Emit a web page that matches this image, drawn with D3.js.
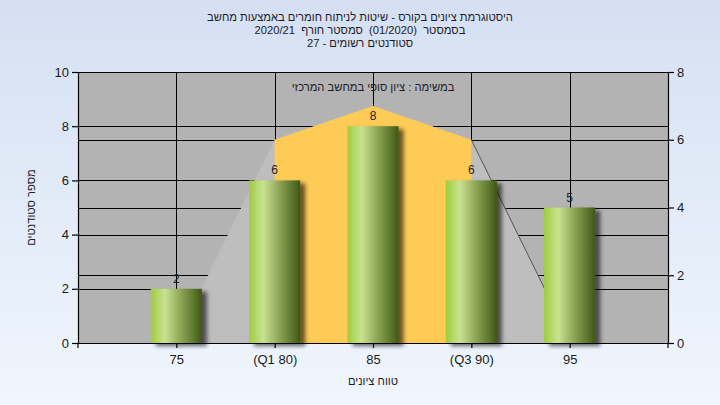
<!DOCTYPE html>
<html><head><meta charset="utf-8">
<script src="https://cdn.jsdelivr.net/npm/d3@7/dist/d3.min.js"></script>
<style>
html,body{margin:0;padding:0;}
svg{display:block;font-family:"Liberation Sans",Arial,"DejaVu Sans",sans-serif;}
text.pre{white-space:pre;}
</style></head>
<body>
<svg id="c" width="720" height="405"></svg>
<script>
const titleLines = ["היסטוגרמת ציונים בקורס - שיטות לניתוח חומרים באמצעות מחשב",
                    "בסמסטר  (01/2020)  סמסטר חורף  2020/21",
                    "סטודנטים רשומים - 27"];
const subtitle = "במשימה : ציון סופי במחשב המרכזי";
const xTitle = "טווח ציונים";
const yTitle = "מספר סטודנטים";
const categories = ["75", "(Q1 80)", "85", "(Q3 90)", "95"];
const counts = [2, 6, 8, 6, 5];
const curve = [0.1, 6, 7, 6, 0.1];
const leftTicks = [0, 2, 4, 6, 8, 10];
const rightTicks = [0, 2, 4, 6, 8];

const svg = d3.select("#c");
const L = 78, R = 668, T = 72, B = 343;
const hebSize = 11.2;

const defs = svg.append("defs");
const bg = defs.append("linearGradient").attr("id","bg").attr("x1",0).attr("y1",0).attr("x2",0).attr("y2",1);
bg.append("stop").attr("offset","0%").attr("stop-color","#d4e0f2");
bg.append("stop").attr("offset","100%").attr("stop-color","#f0f6fd");
const bar = defs.append("linearGradient").attr("id","bar").attr("x1",0).attr("y1",0).attr("x2",1).attr("y2",0);
[["0%","#9fcd3e"],["28%","#c8e292"],["55%","#94ac5c"],["92%","#4e6822"],["100%","#3f5418"]]
  .forEach(s => bar.append("stop").attr("offset",s[0]).attr("stop-color",s[1]));
const f = defs.append("filter").attr("id","sh").attr("x","-20%").attr("y","-10%").attr("width","160%").attr("height","130%");
f.append("feGaussianBlur").attr("in","SourceAlpha").attr("stdDeviation",2).attr("result","b");
f.append("feOffset").attr("in","b").attr("dx",5).attr("dy",3).attr("result","o");
f.append("feComponentTransfer").attr("in","o").attr("result","o2")
  .append("feFuncA").attr("type","linear").attr("slope",0.6);
const m = f.append("feMerge");
m.append("feMergeNode").attr("in","o2");
m.append("feMergeNode").attr("in","SourceGraphic");

svg.append("rect").attr("width",720).attr("height",405).attr("fill","url(#bg)");

const x = d3.scalePoint().domain(categories).range([L, R]).padding(1);
const yL = d3.scaleLinear().domain([0, 10]).range([B, T]);
const yR = d3.scaleLinear().domain([0, 8]).range([B, T]);

// plot background
svg.append("rect").attr("x",L).attr("y",T).attr("width",R-L).attr("height",B-T).attr("fill","#b3b3b3");

// gridlines
const g = svg.append("g").attr("stroke","#000").attr("stroke-width",1).attr("shape-rendering","crispEdges");
leftTicks.forEach(v => g.append("line").attr("x1",L).attr("x2",R).attr("y1",Math.round(yL(v))+0.5).attr("y2",Math.round(yL(v))+0.5));
rightTicks.forEach(v => g.append("line").attr("x1",L).attr("x2",R).attr("y1",Math.round(yR(v))+0.5).attr("y2",Math.round(yR(v))+0.5));
categories.forEach(c => g.append("line").attr("x1",Math.round(x(c))+0.5).attr("x2",Math.round(x(c))+0.5).attr("y1",T).attr("y2",B));

// areas
const area = d3.area().x((d,i) => x(categories[i])).y0(B).y1(d => yR(d));
svg.append("path").datum(curve).attr("d", area).attr("fill","#bebebe");
const iqr = curve.slice(1, 4);
const area2 = d3.area().x((d,i) => x(categories[i+1])).y0(B).y1(d => yR(d));
svg.append("path").datum(iqr).attr("d", area2).attr("fill","#fecb56");
const line = d3.line().x((d,i) => x(categories[i+3])).y(d => yR(d));
svg.append("path").datum(curve.slice(3)).attr("d", line).attr("fill","none").attr("stroke","#555").attr("stroke-width",1);

// bars
const bw = x.step() * 0.52;
svg.append("g").selectAll("rect").data(counts).join("rect")
  .attr("x",(d,i) => x(categories[i]) - bw/2).attr("width",bw)
  .attr("y",d => yL(d)).attr("height",d => B - yL(d))
  .attr("fill","url(#bar)").attr("filter","url(#sh)");

// bar labels
svg.append("g").selectAll("text").data(counts).join("text")
  .attr("x",(d,i) => x(categories[i])).attr("y",d => yL(d) - 6)
  .attr("text-anchor","middle").attr("font-size",12).attr("fill","#1e1e28").text(d => d);

// axes
const axL = svg.append("g").attr("transform",`translate(${L},0)`)
  .call(d3.axisLeft(yL).tickValues(leftTicks).tickSize(6).tickSizeOuter(0).tickPadding(3));
const axR = svg.append("g").attr("transform",`translate(${R},0)`)
  .call(d3.axisRight(yR).tickValues(rightTicks).tickSize(6).tickSizeOuter(0).tickPadding(3));
const axB = svg.append("g").attr("transform",`translate(0,${B})`)
  .call(d3.axisBottom(x).tickSize(5).tickSizeOuter(0).tickPadding(7));
x.range().forEach(px => axB.append("line").attr("x1",px).attr("x2",px).attr("y1",0).attr("y2",5).attr("stroke","#000"));
[axL, axR, axB].forEach(a => {
  a.selectAll("path,line").attr("stroke","#000").attr("stroke-width",1.2);
  a.selectAll("text").attr("font-size",13).attr("fill","#1a1a1a").attr("font-family",'"Liberation Sans",Arial,sans-serif');
});
axL.select(".domain").attr("d",`M0.5,${T}V${B}`);
axR.select(".domain").attr("d",`M0.5,${T}V${B}`);

// titles
svg.append("g").selectAll("text").data(titleLines).join("text")
  .attr("class","pre")
  .attr("x",360).attr("y",(d,i) => 21 + i*13).attr("text-anchor","middle")
  .attr("direction","rtl").attr("font-size",hebSize).attr("fill","#1e1a28").text(d => d);
svg.append("text").attr("x",x(categories[2])).attr("y",91).attr("text-anchor","middle")
  .attr("direction","rtl").attr("font-size",hebSize).attr("fill","#1e1a28").text(subtitle);
svg.append("text").attr("x",(L+R)/2).attr("y",385).attr("text-anchor","middle")
  .attr("direction","rtl").attr("font-size",hebSize).attr("fill","#1e1a28").text(xTitle);
svg.append("text").attr("transform",`translate(35,${(T+B)/2}) rotate(-90)`).attr("text-anchor","middle")
  .attr("direction","rtl").attr("font-size",hebSize).attr("fill","#1e1a28").text(yTitle);
</script>
</body></html>
